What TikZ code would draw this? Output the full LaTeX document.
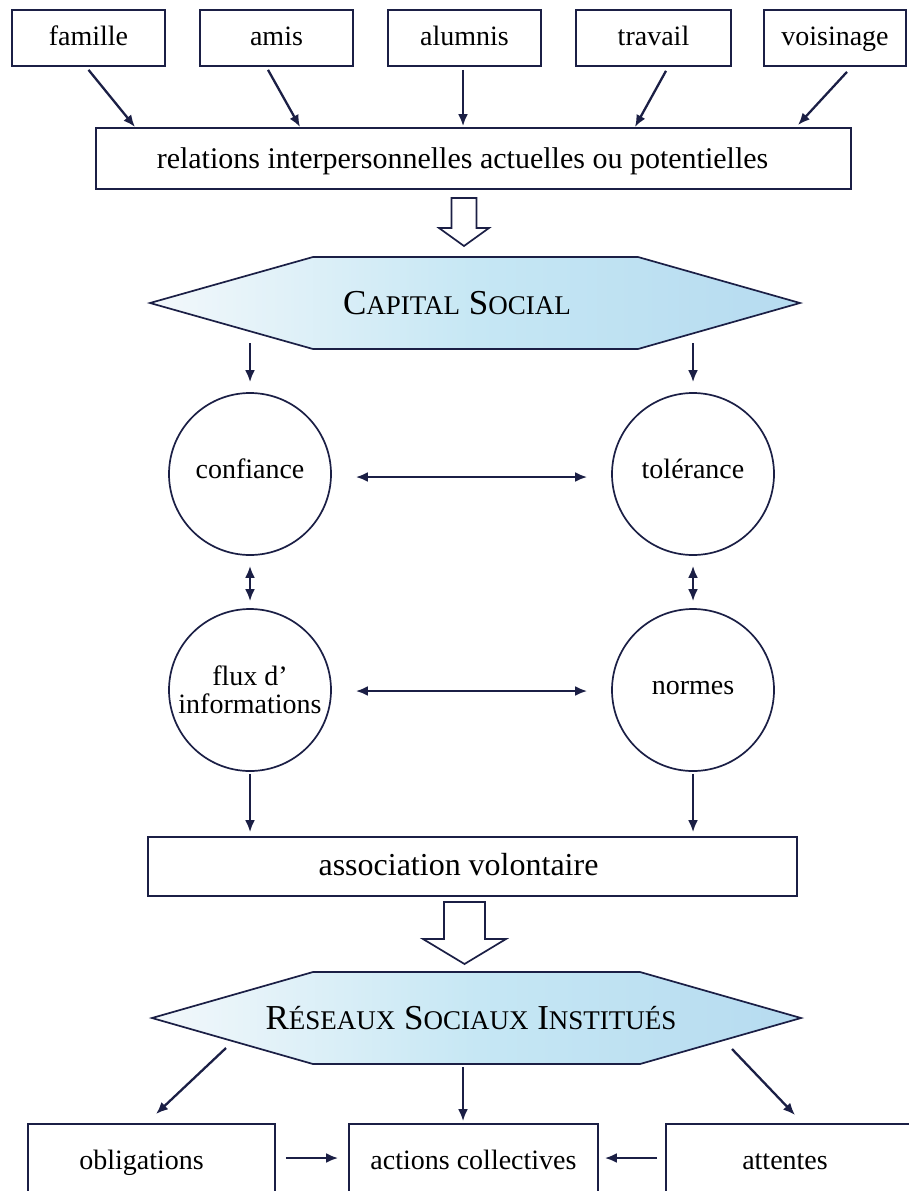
\documentclass[tikz,border=0pt]{standalone}
\usepackage{fontspec}
\setmainfont{Liberation Serif}
\usetikzlibrary{arrows.meta}
\definecolor{navy}{HTML}{1B1F45}
\definecolor{hexL}{HTML}{F3F8FB}
\definecolor{hexM}{HTML}{C6E7F4}
\definecolor{hexR}{HTML}{B6DBF0}
\newcommand\capA[1]{{\fontsize{35}{40}\selectfont #1}}
\newcommand\capB[1]{{\fontsize{27}{32}\selectfont #1}}
\begin{document}
\begin{tikzpicture}[x=1pt,y=-1pt,
  box/.style={draw=navy, line width=1.7pt, fill=white, minimum height=56pt, minimum width=153pt,
    inner sep=0pt, text height=20pt, text depth=6pt, font=\fontsize{28}{32}\selectfont},
  circ/.style={draw=navy, line width=1.7pt, circle, minimum size=162pt, inner sep=0pt,
    font=\fontsize{28}{28}\selectfont, align=center},
  circ1/.style={circ, text height=20pt, text depth=12pt},
  tip/.tip={Latex[length=12pt,width=10pt]},
  arr/.style={draw=navy, line width=2.3pt, -tip},
  darr/.style={draw=navy, line width=2.3pt, tip-tip},
  hex/.style={draw=navy, line width=1.7pt, left color=hexL, right color=hexR, middle color=hexM},
  hollow/.style={draw=navy, line width=1.7pt, fill=white, line join=miter},
  hextext/.style={inner sep=0pt, text height=23pt, text depth=0pt, font=\fontsize{35}{40}\selectfont}
]
\useasboundingbox (0,0) rectangle (908,1191);

% top boxes
\node[box] (fam) at (88.5,38) {famille};
\node[box] (ami) at (276.5,38) {amis};
\node[box] (alu) at (464.5,38) {alumnis};
\node[box, minimum width=155pt] (tra) at (653.5,38) {travail};
\node[box, minimum width=142pt] (voi) at (835,38) {voisinage};

\node[box, minimum width=755pt, minimum height=61pt, text height=22pt, text depth=3pt,
  font=\fontsize{30}{34}\selectfont] (rel) at (473.5,158.5)
  {\hspace*{-22pt}relations interpersonnelles actuelles ou potentielles};

\coordinate (r1) at (135,127);
\coordinate (r2) at (300,127);
\coordinate (r4) at (635,127);
\coordinate (r5) at (798,125);
\draw[arr] ([yshift=-3pt]fam.south) -- (r1);
\draw[arr] ([xshift=-8.5pt,yshift=-3pt]ami.south) -- (r2);
\draw[arr, shorten <=3pt, shorten >=1pt] ([xshift=-1.5pt]alu.south) -- ([xshift=-1.5pt]alu.south |- rel.north);
\draw[arr] ([xshift=12.5pt,yshift=-4pt]tra.south) -- (r4);
\draw[arr] ([xshift=12pt,yshift=-5pt]voi.south) -- (r5);

% hollow arrow 1
\draw[hollow] (451.5,198) -- (476.5,198) -- (476.5,228) -- (489,228) -- (464,246) -- (439,228) -- (451.5,228) -- cycle;

% hexagon 1
\draw[hex] (150,303) -- (313,257) -- (638,257) -- (800,303) -- (638,349) -- (313,349) -- cycle;
\node[hextext] (cap) at (457,303) {\capA{C}\capB{APITAL} \capA{S}\capB{OCIAL}};

% circles
\node[circ1] (conf) at (250,474) {confiance};
\node[circ1] (tol) at (693,474) {tolérance};
\node[circ] (flux) at (250,690) {flux d’\\informations};
\node[circ1] (norm) at (693,690) {normes};

\coordinate (h1a) at (250,343);
\coordinate (h1b) at (693,343);
\draw[arr, shorten >=10pt] (h1a) -- (conf);
\draw[arr, shorten >=10pt] (h1b) -- (tol);

\draw[darr, shorten <=24pt, shorten >=24pt] ([yshift=-3pt]conf.east) -- ([yshift=-3pt]tol.west);
\draw[darr, shorten <=24pt, shorten >=24pt] ([yshift=-1pt]flux.east) -- ([yshift=-1pt]norm.west);
\draw[darr, shorten <=10pt, shorten >=7pt] (conf.south) -- (flux.north);
\draw[darr, shorten <=10pt, shorten >=7pt] (tol.south) -- (norm.north);

% association
\node[box, minimum width=649pt, minimum height=59pt, text height=22pt, text depth=5pt,
  font=\fontsize{32}{36}\selectfont] (asso) at (472.5,866.5)
  {\hspace*{-28pt}association volontaire};
\draw[arr, shorten <=2pt, shorten >=4pt] (flux.south) -- (flux.south |- asso.north);
\draw[arr, shorten <=2pt, shorten >=4pt] (norm.south) -- (norm.south |- asso.north);

% hollow arrow 2
\draw[hollow] (444,902) -- (485,902) -- (485,939) -- (506,939) -- (464.5,964) -- (423,939) -- (444,939) -- cycle;

% hexagon 2
\draw[hex] (152,1018) -- (313,972) -- (640,972) -- (801,1018) -- (640,1064) -- (313,1064) -- cycle;
\node[hextext] (res) at (471,1018) {\capA{R}\capB{ÉSEAUX} \capA{S}\capB{OCIAUX} \capA{I}\capB{NSTITUÉS}};

% bottom boxes
\node[box, minimum width=247pt, minimum height=76pt] (obl) at (151.5,1162) {\hspace*{-20pt}obligations};
\node[box, minimum width=249pt, minimum height=76pt] (act) at (473.5,1162) {actions collectives};
\node[box, minimum width=248pt, minimum height=76pt] (att) at (790,1162) {\hspace*{-10pt}attentes};

\coordinate (h2l) at (226,1048);
\coordinate (h2m) at (463,1067);
\coordinate (h2r) at (732,1049);
\coordinate (oblin) at (156,1114);
\coordinate (attin) at (795,1115);
\draw[arr] (h2l) -- (oblin);
\draw[arr, shorten >=2pt] (h2m) -- (h2m |- act.north);
\draw[arr] (h2r) -- (attin);

\draw[arr, shorten <=10pt, shorten >=10pt] ([yshift=4pt]obl.east) -- ([yshift=4pt]act.west);
\draw[arr, shorten <=8pt, shorten >=6pt] ([yshift=4pt]att.west) -- ([yshift=4pt]act.east);
\end{tikzpicture}
\end{document}
